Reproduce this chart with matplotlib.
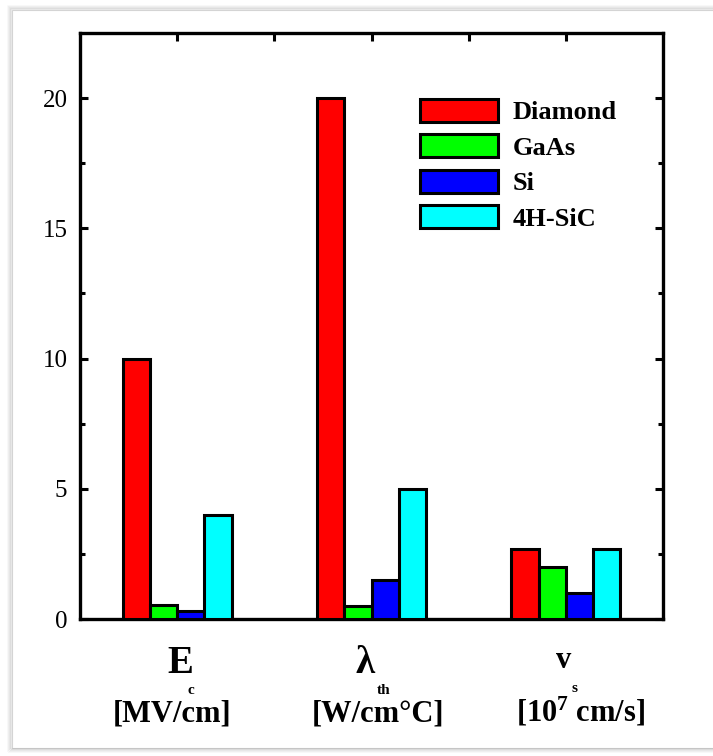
import matplotlib
matplotlib.use("Agg")
import matplotlib.pyplot as plt
from matplotlib.patches import Rectangle
import numpy as np

# Figure-of-merit values for each material at each property
materials = ["Diamond", "GaAs", "Si", "4H-SiC"]
bar_colors = ["#ff0000", "#00ff00", "#0000ff", "#00ffff"]
group_pos = [1, 3, 5]
diamond = [10.0, 20.0, 2.7]
gaas = [0.55, 0.5, 2.0]
si = [0.3, 1.5, 1.0]
sic = [4.0, 5.0, 2.7]
series = [diamond, gaas, si, sic]

symbols = ["E", "λ", "v"]
subscripts = ["c", "th", "s"]
units = ["[MV/cm]", "[W/cm°C]", r"[10$^{\mathbf{7}}$ cm/s]"]
y_major = [0, 5, 10, 15, 20]
y_minor = [2.5, 7.5, 12.5, 17.5]

SERIF = ["Liberation Serif", "DejaVu Serif"]
plt.rcParams["font.family"] = SERIF
plt.rcParams["mathtext.fontset"] = "custom"
plt.rcParams["mathtext.rm"] = "Liberation Serif:bold"
plt.rcParams["mathtext.bf"] = "Liberation Serif:bold"
plt.rcParams["mathtext.it"] = "Liberation Serif:bold"

W, H = 713, 756
fig = plt.figure(figsize=(W / 100, H / 100), dpi=100)
fig.patch.set_facecolor("white")


def fx(x):
    return x / W


def fy(y):
    return 1 - y / H


# card with a soft shadow around the chart
for k, a in enumerate([0.05, 0.08, 0.12, 0.18]):
    off = 4 - k
    fig.patches.append(Rectangle((fx(12 - off), fy(748 + off)),
                                 fx(W + 20), (748 - 10 + 2 * off) / H,
                                 transform=fig.transFigure, facecolor="none",
                                 edgecolor=(0.45, 0.45, 0.45, a), lw=1.2))
fig.patches.append(Rectangle((fx(12), fy(748)), fx(W + 20), (748 - 10) / H,
                             transform=fig.transFigure, facecolor="white",
                             edgecolor="#d4d4d4", lw=0.8, zorder=0))

ax = fig.add_axes([fx(80), fy(619), (663 - 80) / W, (619 - 33) / H])
ax.set_zorder(2)
ax.patch.set_alpha(0)

width = 0.28
x = np.array(group_pos, dtype=float)
for i, vals in enumerate(series):
    ax.bar(x + (i - 1.5) * width, vals, width, color=bar_colors[i],
           edgecolor="black", linewidth=2.2, label=materials[i], zorder=3)

ax.set_xlim(0, 6)
ax.set_ylim(0, 22.5)

for s in ax.spines.values():
    s.set_linewidth(2.4)

ax.set_yticks(y_major)
ax.set_yticks(y_minor, minor=True)
ax.tick_params(axis="y", which="both", direction="in", left=True, right=True,
               width=2.2, colors="black")
ax.tick_params(axis="y", which="major", length=6, pad=9, labelsize=18)
ax.tick_params(axis="y", which="minor", length=3.5)

ax.set_xticks([1, 2, 3, 4, 5])
ax.set_xticks([2, 4], minor=True)
ax.tick_params(axis="x", which="major", direction="in", top=True, bottom=False,
               length=6, width=2.2, labelbottom=False)
ax.tick_params(axis="x", which="minor", direction="in", top=False, bottom=True,
               length=4, width=2.2)

leg = ax.legend(loc="upper left", bbox_to_anchor=(fx(420), fy(99)),
                bbox_transform=fig.transFigure, frameon=False,
                prop={"family": SERIF, "weight": "bold", "size": 19},
                handlelength=2.95, handleheight=0.95, labelspacing=0.38,
                handletextpad=0.55, borderpad=0, borderaxespad=0)

# property symbols with their subscripts, and the units below
sym_x = [180, 365, 564]
sym_base = [673, 673, 668]
sym_size = [28, 28, 22]
sub_x = [187, 377, 571]
sub_base = [694, 694, 692]
unit_x = [172, 378, 581]
for i in range(3):
    fig.text(fx(sym_x[i]), fy(sym_base[i]), symbols[i], ha="center",
             va="baseline", fontsize=sym_size[i], fontweight="bold",
             family=SERIF)
    fig.text(fx(sub_x[i]), fy(sub_base[i]), subscripts[i], ha="left",
             va="baseline", fontsize=11, fontweight="bold", family=SERIF)
    fig.text(fx(unit_x[i]), fy(722), units[i], ha="center", va="baseline",
             fontsize=22, fontweight="bold", family=SERIF)

fig.savefig("out.png", dpi=100)
